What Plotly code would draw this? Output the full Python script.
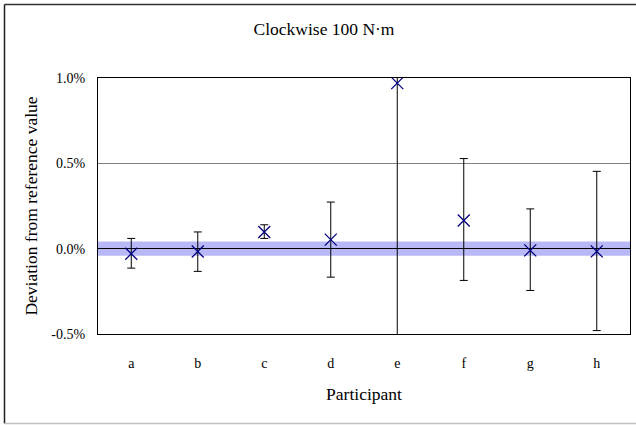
import plotly.graph_objects as go

# Deviation of each participant's result from the reference value (in %)
participants = ["a", "b", "c", "d", "e", "f", "g", "h"]
deviation = [-0.03, -0.017, 0.098, 0.053, 0.97, 0.165, -0.01, -0.016]
err_plus = [0.09, 0.115, 0.042, 0.22, 0.07, 0.363, 0.243, 0.469]
err_minus = [0.084, 0.116, 0.038, 0.22, 1.51, 0.351, 0.235, 0.464]
open_ended = [False, False, False, False, True, False, False, False]

# Uncertainty of the reference value (in %)
reference_band = 0.042

y_tick_values = [-0.5, 0.0, 0.5, 1.0]
y_tick_labels = ["-0.5%", "0.0%", "0.5%", "1.0%"]

W, H = 636, 425
L, R, T, B = 98, 6, 78, 91
PW, PH = W - L - R, H - T - B

FONT = "Liberation Serif, Times New Roman, serif"
NAVY = "#000080"


def px_x(px):
    return (px - L) / PW


def px_y(py):
    return (H - B - py) / PH


fig = go.Figure()


def add_points(idx, cap_width):
    fig.add_trace(go.Scatter(
        x=[participants[i] for i in idx],
        y=[deviation[i] for i in idx],
        mode="markers",
        marker=dict(symbol="x-thin", size=12, color=NAVY,
                    line=dict(color=NAVY, width=1.3)),
        error_y=dict(type="data", symmetric=False,
                     array=[err_plus[i] for i in idx],
                     arrayminus=[err_minus[i] for i in idx],
                     color="black", thickness=1, width=cap_width),
        cliponaxis=False,
        showlegend=False,
    ))


add_points([i for i, o in enumerate(open_ended) if not o], 4)
add_points([i for i, o in enumerate(open_ended) if o], 0)

shapes = [
    # reference value uncertainty band
    dict(type="rect", xref="paper", yref="y", x0=0, x1=1,
         y0=-reference_band, y1=reference_band,
         fillcolor="#b8b8f6", line=dict(width=0), layer="below"),
    # chart frame
    dict(type="line", xref="paper", yref="paper",
         x0=px_x(4.5), x1=px_x(W + 10), y0=px_y(4.5), y1=px_y(4.5),
         line=dict(color="#303030", width=1.5)),
    dict(type="line", xref="paper", yref="paper",
         x0=px_x(4.5), x1=px_x(4.5), y0=px_y(4.5), y1=px_y(423.5),
         line=dict(color="#202020", width=1.5)),
    dict(type="line", xref="paper", yref="paper",
         x0=px_x(4.5), x1=px_x(W + 10), y0=px_y(423.5), y1=px_y(423.5),
         line=dict(color="#c0c0c0", width=1.5)),
]

fig.update_layout(
    width=W, height=H,
    margin=dict(l=L, r=R, t=T, b=B),
    paper_bgcolor="white", plot_bgcolor="white",
    font=dict(family=FONT, color="black"),
    title=dict(text="Clockwise 100 N·m", xref="container", x=324 / W,
               yref="container", y=1 - 29 / H, xanchor="center",
               yanchor="middle", font=dict(family=FONT, size=17.5)),
    shapes=shapes,
    xaxis=dict(
        type="category", categoryorder="array", categoryarray=participants,
        range=[-0.5, 7.5],
        showgrid=False, showline=True, mirror=True,
        linecolor="black", linewidth=1,
        ticks="outside", ticklen=16, tickcolor="rgba(0,0,0,0)",
        tickfont=dict(family=FONT, size=14),
        title=dict(text="Participant", font=dict(family=FONT, size=17.5),
                   standoff=17),
    ),
    yaxis=dict(
        range=[-0.5, 1.0],
        tickvals=y_tick_values, ticktext=y_tick_labels,
        showgrid=True, gridcolor="#808080", gridwidth=1,
        zeroline=True, zerolinecolor="black", zerolinewidth=1,
        showline=True, mirror=True, linecolor="black", linewidth=1,
        ticks="outside", ticklen=9, tickcolor="rgba(0,0,0,0)",
        tickfont=dict(family=FONT, size=14),
        title=dict(text="Deviation from reference value",
                   font=dict(family=FONT, size=17.5), standoff=9),
    ),
)

fig.write_html("out.html")
